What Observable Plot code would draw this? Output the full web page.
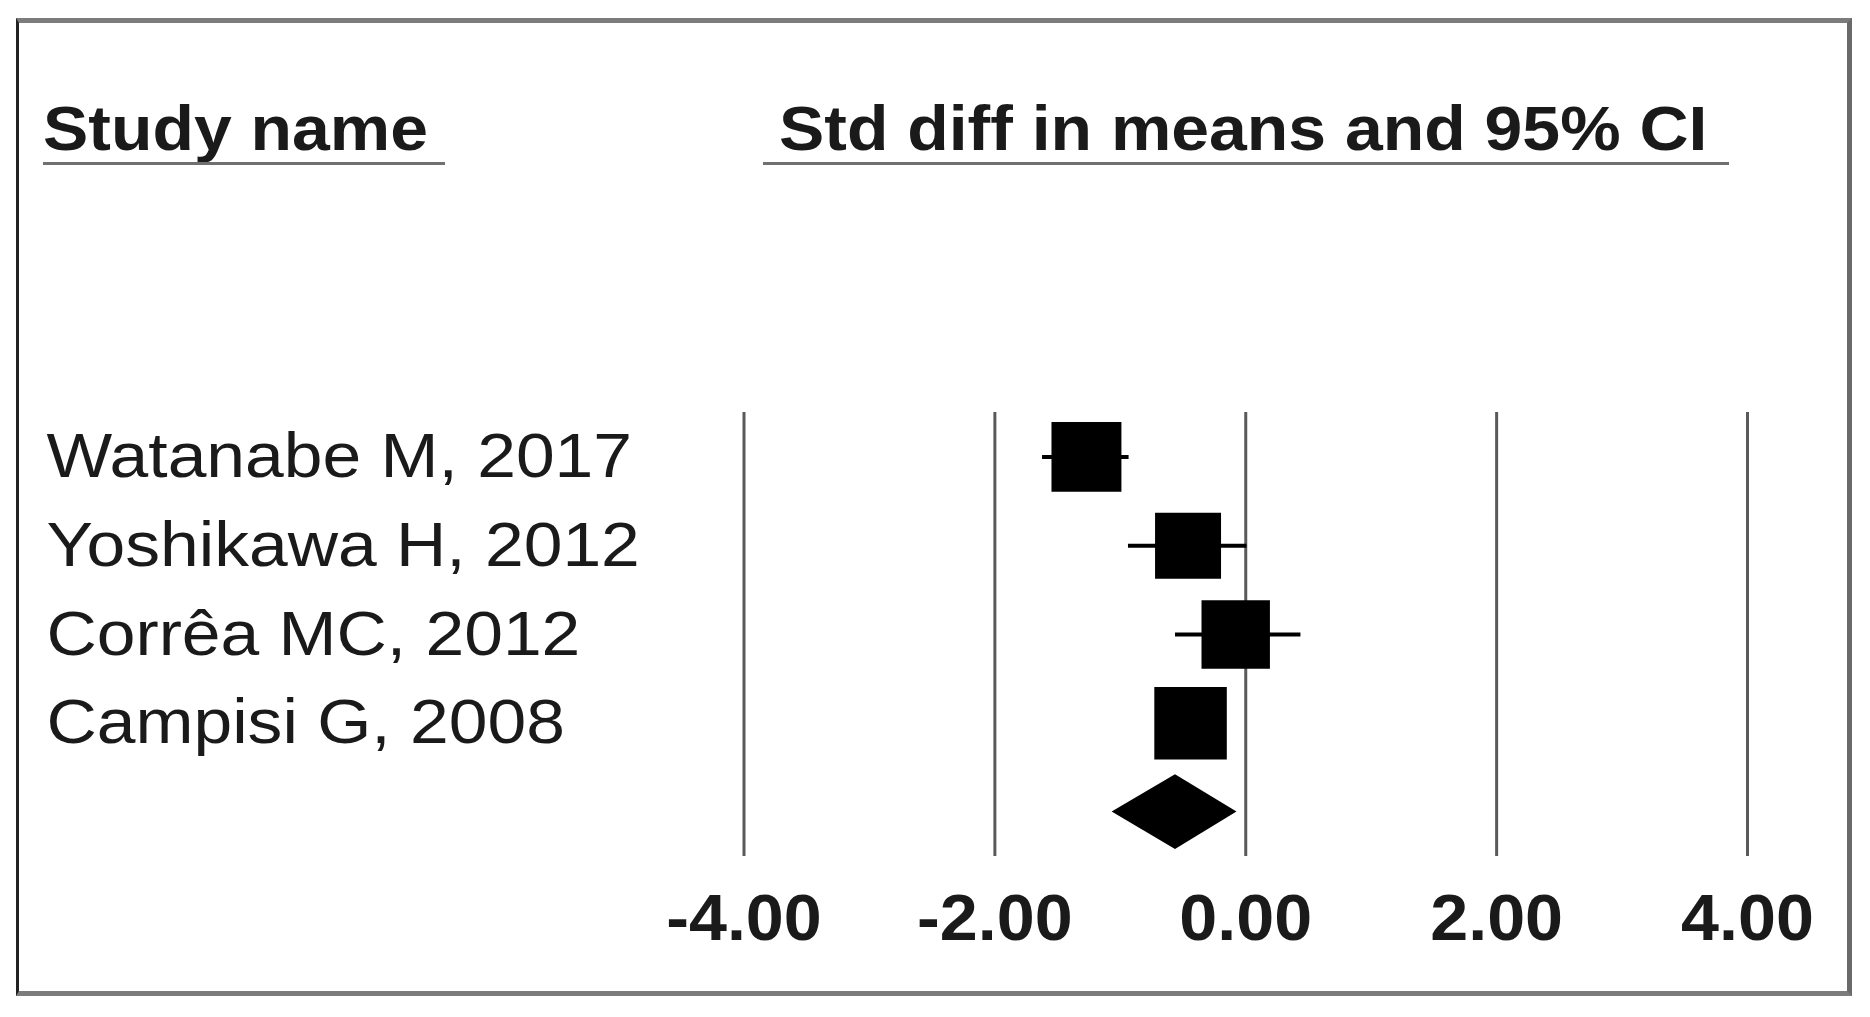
<!DOCTYPE html>
<html>
<head>
<meta charset="utf-8">
<script src="https://cdn.jsdelivr.net/npm/d3@7"></script>
<script src="https://cdn.jsdelivr.net/npm/@observablehq/plot@0.6"></script>
<style>
  html, body { margin: 0; padding: 0; background: #fff; }
  body { width: 1870px; height: 1017px; position: relative; overflow: hidden; font-family: "Liberation Sans", Arial, sans-serif; }
  #chart { position: absolute; left: 0; top: 0; }
  .hdr { position: absolute; font-weight: bold; font-size: 63px; line-height: 63px; color: #1a1a1a; white-space: nowrap;
         transform: scaleX(1.078); transform-origin: 0 0; }
  .uline { position: absolute; height: 3px; background: #707070; }
  #border { position: absolute; left: 16px; top: 18px; width: 1828px; height: 968px;
            border-left: 3px solid #222; border-top: 5px solid #7c7c7c; border-right: 5px solid #6a6a6a; border-bottom: 5px solid #7c7c7c;
            pointer-events: none; }
</style>
</head>
<body>
<div id="chart"></div>
<div class="hdr" style="left:43px; top:97px;">Study name</div>
<div class="uline" style="left:43px; top:162px; width:402px;"></div>
<div class="hdr" style="left:779px; top:97px;">Std diff in means and 95% CI</div>
<div class="uline" style="left:763px; top:162px; width:966px;"></div>
<div id="border"></div>
<script>
// ---- data ----
const studies   = ["Watanabe M, 2017", "Yoshikawa H, 2012", "Corrêa MC, 2012", "Campisi G, 2008"];
const stdDiff   = [-1.27, -0.46, -0.08, -0.44];
const lowerCI   = [-1.62, -0.935, -0.56, -0.68];
const upperCI   = [-0.93, 0.01, 0.44, -0.20];
const weights   = [25.5, 22.7, 24.4, 27.4];
const summaryStdDiff = -0.56;
const summaryLower   = -1.065;
const summaryUpper   = -0.07;
const xTicks = [-4, -2, 0, 2, 4];

// ---- build tables ----
const rows = studies.map((name, i) => ({
  name, row: i + 1, mean: stdDiff[i], lo: lowerCI[i], hi: upperCI[i], w: weights[i]
}));
const sumRow = studies.length + 1;
const half = 0.42;
const diamond = [
  {x: summaryLower,   y1: sumRow,        y2: sumRow},
  {x: summaryStdDiff, y1: sumRow - half, y2: sumRow + half},
  {x: summaryUpper,   y1: sumRow,        y2: sumRow}
];

const marginLeft = 743.5;
const labelLeft = 46;

const chart = Plot.plot({
  width: 1870,
  height: 1017,
  marginLeft,
  marginRight: 123,
  marginTop: 412,
  marginBottom: 161,
  style: {fontFamily: '"Liberation Sans", Arial, sans-serif', color: "#1a1a1a", background: "transparent", overflow: "visible"},
  x: {domain: [-4, 4]},
  y: {domain: [0.5, sumRow + 0.5], reverse: true, axis: null},
  r: {type: "sqrt", domain: [0, d3.max(weights)], range: [0, 40.9]},
  marks: [
    Plot.ruleX(xTicks, {stroke: "#5a5a5a", strokeWidth: 3}),
    Plot.axisX(xTicks, {tickSize: 0, tickPadding: 37, tickFormat: d => d.toFixed(2), fontSize: 65, fontWeight: "bold", lineAnchor: "top", label: null, fill: "#1a1a1a"}),
    Plot.ruleY(rows, {x1: "lo", x2: "hi", y: "row", stroke: "#000", strokeWidth: 4}),
    Plot.dot(rows, {x: "mean", y: "row", r: "w", symbol: "square", fill: "#000", stroke: null}),
    Plot.areaY(diamond, {x: "x", y1: "y1", y2: "y2", fill: "#000"}),
    Plot.text(rows, {y: "row", text: "name", frameAnchor: "left", dx: -(marginLeft - labelLeft), textAnchor: "start", fontSize: 63, fill: "#1a1a1a"})
  ]
});

// widen glyphs horizontally about each text's own anchor (the reference text is stretched)
function stretch(selector, s) {
  chart.querySelectorAll(selector).forEach(t => {
    const x = parseFloat(t.getAttribute("x")) || 0;
    const tr = t.getAttribute("transform") || "";
    t.setAttribute("transform", `${tr} translate(${x},0) scale(${s},1) translate(${-x},0)`.trim());
  });
}
stretch('g[aria-label="text"] text', 1.105);
stretch('g[aria-label="x-axis tick label"] text', 1.05);

document.getElementById("chart").appendChild(chart);
</script>
</body>
</html>
